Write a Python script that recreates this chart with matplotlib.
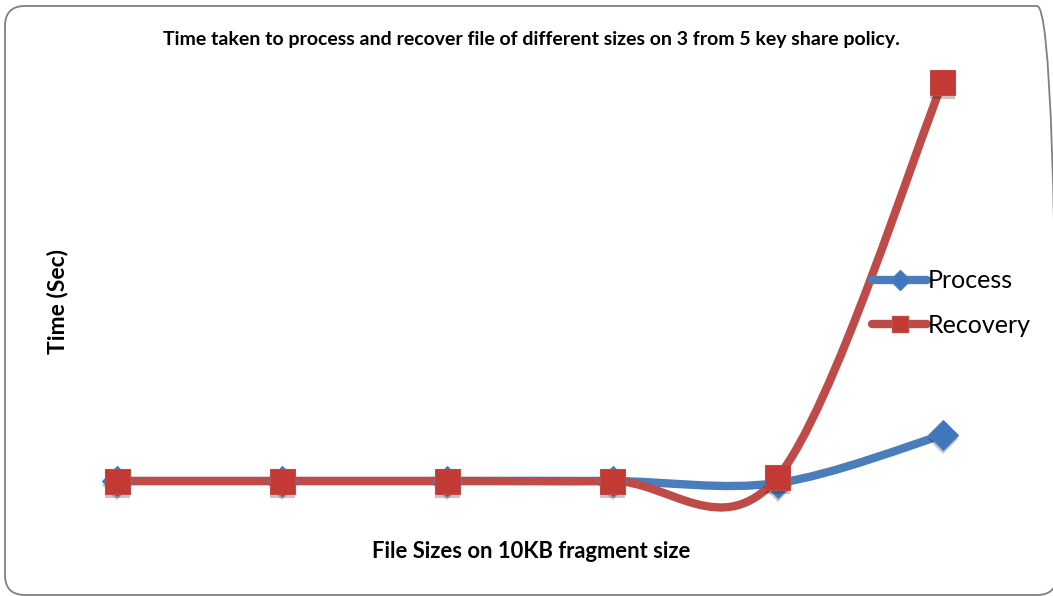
import numpy as np
import matplotlib
matplotlib.use('Agg')
import matplotlib.pyplot as plt
from matplotlib.path import Path
import matplotlib.patches as mpatches
import matplotlib.patheffects as pe
from matplotlib.lines import Line2D
from matplotlib.transforms import IdentityTransform

# Values (no scale shown, arbitrary seconds)
file_sizes = [1, 2, 3, 4, 5, 6]
process = [2.0, 2.0, 2.0, 2.0, 1.8, 6.6]
recovery = [2.0, 2.0, 2.0, 2.0, 2.4, 41.9]

blue = '#4A7EBB'
red = '#BE4B48'
font = 'Lato'


def smooth_path(xs, ys):
    # Excel-style smoothed line: Catmull-Rom as cubic Bezier segments
    pts = np.column_stack([xs, ys]).astype(float)
    n = len(pts)
    verts = [pts[0]]
    codes = [Path.MOVETO]
    for i in range(n - 1):
        p0 = pts[i - 1] if i > 0 else pts[i]
        p1 = pts[i]
        p2 = pts[i + 1]
        p3 = pts[i + 2] if i + 2 < n else pts[i + 1]
        c1 = p1 + (p2 - p0) / 6.0
        c2 = p2 - (p3 - p1) / 6.0
        verts += [c1, c2, p2]
        codes += [Path.CURVE4] * 3
    return Path(verts, codes)


fig = plt.figure(figsize=(10.53, 5.96), dpi=100)

# rounded chart border (pixel coordinates, runs off the right edge)
border = mpatches.FancyBboxPatch((5, 1), 1052, 589,
                                 boxstyle='round,pad=0,rounding_size=20',
                                 transform=IdentityTransform(), fill=False,
                                 edgecolor='#808080', linewidth=1.3)
fig.patches.append(border)

ax = fig.add_axes([34.5 / 1053, 56 / 596, 991 / 1053, 490 / 596])
ax.set_xlim(0.5, 6.5)
ax.set_ylim(-3.9, 45.1)
ax.axis('off')

mshadow = [pe.SimplePatchShadow(offset=(0, -3), alpha=0.25), pe.Normal()]

for ys, col, mk, ms, face in [(process, blue, 'D', 15, '#3F76BC'),
                              (recovery, red, 's', 18, '#C23A33')]:
    patch = mpatches.PathPatch(smooth_path(file_sizes, ys), facecolor='none',
                               edgecolor=col, linewidth=6, capstyle='round', zorder=2)
    ax.add_patch(patch)
    ax.plot(file_sizes, ys, linestyle='none', marker=mk, markersize=ms,
            markerfacecolor=face, markeredgecolor=col, markeredgewidth=0.8,
            zorder=3, path_effects=mshadow)

handles = [
    Line2D([], [], color=blue, linewidth=6, marker='D', markersize=10,
           markerfacecolor='#3F76BC', markeredgecolor=blue, solid_capstyle='round'),
    Line2D([], [], color=red, linewidth=6, marker='s', markersize=12,
           markerfacecolor='#C23A33', markeredgecolor=red, solid_capstyle='round'),
]
fig.legend(handles, ['Process', 'Recovery'], loc='center left',
           bbox_to_anchor=(862 / 1053, 1 - 303 / 596), frameon=False,
           prop={'family': font, 'size': 18}, handlelength=2.2,
           handletextpad=0.05, labelspacing=0.85, borderaxespad=0)

fig.text(531 / 1053, 1 - 40 / 596,
         'Time taken to process and recover file of different sizes on 3 from 5 key share policy.',
         ha='center', va='center', fontsize=14, fontweight='bold', family=font)
fig.text(531 / 1053, 1 - 552 / 596, 'File Sizes on 10KB fragment size',
         ha='center', va='center', fontsize=15.8, fontweight='bold', family=font)
fig.text(57 / 1053, 1 - 302 / 596, 'Time (Sec)', rotation=90,
         ha='center', va='center', fontsize=16.5, fontweight='bold', family=font)

fig.savefig('out.png', dpi=100)
